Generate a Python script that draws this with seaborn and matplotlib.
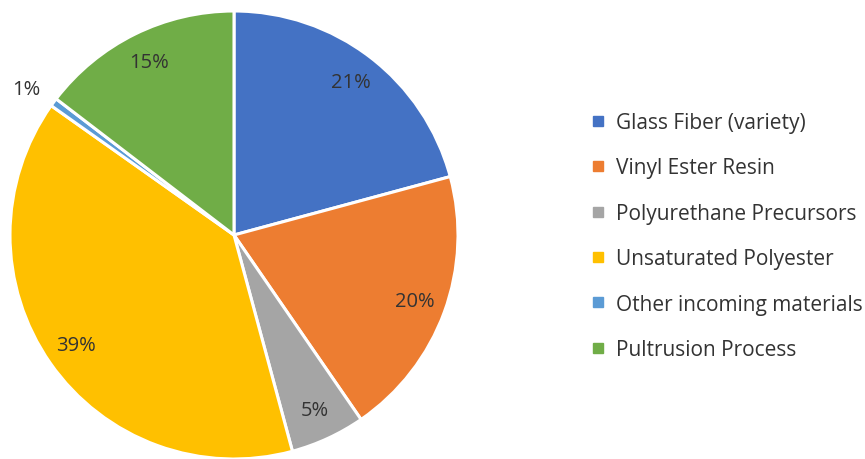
import matplotlib
matplotlib.use("Agg")
import matplotlib.pyplot as plt
import seaborn as sns
import numpy as np
from matplotlib.lines import Line2D

# Share of total by source
categories = [
    "Glass Fiber (variety)",
    "Vinyl Ester Resin",
    "Polyurethane Precursors",
    "Unsaturated Polyester",
    "Other incoming materials",
    "Pultrusion Process",
]
shares = [20.8, 19.6, 5.4, 39.0, 0.6, 14.6]
colors = ["#4472C4", "#ED7D31", "#A5A5A5", "#FFC000", "#5B9BD5", "#70AD47"]

sns.set_theme(style="white")
plt.rcParams["font.family"] = ["Open Sans", "DejaVu Sans"]

W, H = 865, 460
fig = plt.figure(figsize=(W / 100, H / 100), dpi=100)
fig.patch.set_facecolor("white")

# pie axes: centre (234, 236) px from top, radius 224 px
cx, cy, r = 234, 236, 224
ax = fig.add_axes([(cx - r) / W, (H - cy - r) / H, 2 * r / W, 2 * r / H])

pct_dist = 0.86
wedges, texts, autotexts = ax.pie(
    shares,
    colors=colors,
    startangle=90,
    counterclock=False,
    autopct="%.0f%%",
    pctdistance=pct_dist,
    radius=1.0,
    wedgeprops=dict(edgecolor="white", linewidth=2.2),
    textprops=dict(fontsize=14.5, color="#333333"),
)
ax.set_xlim(-1, 1)
ax.set_ylim(-1, 1)
ax.set_aspect("equal")
ax.axis("off")

# very small slice gets its label placed just outside the rim
for val, t in zip(shares, autotexts):
    if val < 2:
        x, y = t.get_position()
        k = 1.13 / pct_dist
        t.set_position((x * k * 1.02, y * k * 0.97))

handles = [
    Line2D([0], [0], marker="s", linestyle="none", markersize=7.5,
           markerfacecolor=c, markeredgecolor=c)
    for c in colors
]
leg = fig.legend(
    handles, categories,
    loc="center left",
    bbox_to_anchor=(582 / W, (H - 237) / H),
    frameon=False,
    fontsize=15,
    labelspacing=1.17,
    handlelength=0.7,
    handletextpad=0.55,
    borderaxespad=0,
)
for t in leg.get_texts():
    t.set_color("#333333")

fig.savefig("out.png", dpi=100, facecolor="white")
